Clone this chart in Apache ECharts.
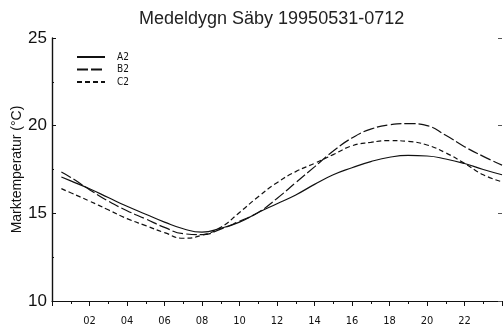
<!DOCTYPE html>
<html>
<head>
<meta charset="utf-8">
<script src="https://cdn.jsdelivr.net/npm/echarts@6/dist/echarts.min.js"></script>
<style>
  html, body { margin: 0; padding: 0; background: #fff; }
  #chart { width: 504px; height: 333px; }
</style>
</head>
<body>
<div id="chart"></div>
<script>
// hour of day (x), soil temperature (°C) per profile
const hours = [0.5, 1, 2, 3, 4, 5, 6, 7, 8, 9, 10, 11, 12, 13, 14, 15, 16, 17, 18, 19, 20, 21, 22, 23, 24];
const a2 = [17.07, 16.85, 16.4, 15.9, 15.4, 14.95, 14.5, 14.12, 13.93, 14.15, 14.5, 15.05, 15.55, 16.05, 16.65, 17.2, 17.6, 17.95, 18.2, 18.3, 18.27, 18.1, 17.84, 17.5, 17.2];
const b2 = [17.36, 17.05, 16.35, 15.7, 15.15, 14.68, 14.2, 13.84, 13.78, 14.1, 14.55, 15.05, 15.85, 16.75, 17.65, 18.55, 19.3, 19.8, 20.05, 20.12, 20.0, 19.45, 18.8, 18.25, 17.75];
const c2 = [16.41, 16.17, 15.7, 15.2, 14.7, 14.3, 13.9, 13.58, 13.75, 14.2, 15.05, 15.95, 16.75, 17.38, 17.85, 18.35, 18.85, 19.05, 19.15, 19.1, 18.9, 18.45, 17.85, 17.2, 16.8];
const seriesNames = ["A2", "B2", "C2"];
const yTicks = [10, 15, 20, 25];

const ink = "#111";
const pairs = vals => hours.map((h, i) => [h, vals[i]]);

function lineSeries(name, vals, dash) {
  return {
    name,
    type: "line",
    data: pairs(vals),
    smooth: true,
    symbol: "none",
    lineStyle: { color: ink, width: 1.2, type: dash },
    itemStyle: { color: ink },
  };
}

const chart = echarts.init(document.getElementById("chart"));
chart.setOption({
  animation: false,
  title: {
    text: "Medeldygn Säby 19950531-0712",
    left: 134,
    top: 5,
    textStyle: { fontFamily: "Liberation Sans", fontSize: 18, fontWeight: "normal", color: "#222" },
  },
  legend: {
    data: seriesNames,
    orient: "vertical",
    left: 71,
    top: 47,
    itemWidth: 28,
    itemHeight: 8,
    itemGap: 2.5,
    itemStyle: { opacity: 0 },
    textStyle: { fontFamily: "DejaVu Sans Condensed", fontSize: 10, color: ink, padding: [0, 0, 0, 7] },
  },
  grid: { left: 52, right: 2, top: 38, bottom: 32, outerBoundsMode: "none" },
  xAxis: {
    type: "value",
    min: 0,
    max: 24,
    interval: 2,
    axisLine: { lineStyle: { color: ink, width: 1.2 } },
    axisTick: { length: 5, lineStyle: { color: ink } },
    minorTick: { show: true, splitNumber: 2, length: 3, lineStyle: { color: ink } },
    splitLine: { show: false },
    axisLabel: {
      margin: 15,
      fontFamily: "DejaVu Sans Condensed",
      fontSize: 11,
      color: ink,
      formatter: v => (v === 0 || v === 24 ? "" : String(v).padStart(2, "0")),
    },
  },
  yAxis: [
    {
      type: "value",
      min: yTicks[0],
      max: yTicks[yTicks.length - 1],
      interval: 5,
      name: "Marktemperatur (°C)",
      nameLocation: "middle",
      nameGap: 28,
      nameMoveOverlap: false,
      nameTextStyle: { fontFamily: "Liberation Sans", fontSize: 14, color: ink },
      axisLine: { show: true, lineStyle: { color: ink, width: 1.4 } },
      axisTick: { show: true, inside: true, length: 4, lineStyle: { color: ink } },
      minorTick: { show: true, splitNumber: 2, length: 2, lineStyle: { color: ink } },
      splitLine: { show: false },
      axisLabel: { margin: 5, fontFamily: "Liberation Sans", fontSize: 17, color: ink },
    },
    {
      type: "value",
      position: "right",
      min: yTicks[0],
      max: yTicks[yTicks.length - 1],
      interval: 5,
      axisLine: { show: false },
      axisTick: { show: true, inside: true, length: 4, lineStyle: { color: "#555" } },
      axisLabel: { show: false },
      splitLine: { show: false },
    },
  ],
  series: [
    lineSeries("A2", a2, "solid"),
    lineSeries("B2", b2, [11, 3]),
    lineSeries("C2", c2, [5, 3]),
  ],
});
</script>
</body>
</html>
